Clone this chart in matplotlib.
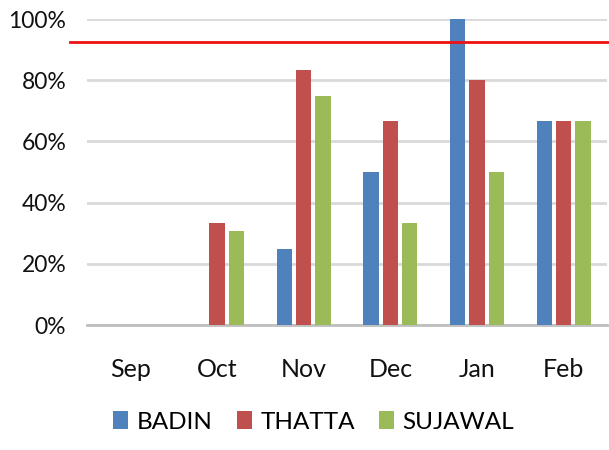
import numpy as np
import matplotlib
matplotlib.use("Agg")
import matplotlib.pyplot as plt
from matplotlib.ticker import PercentFormatter

# ------------------- Datos -------------------
months = ["Sep", "Oct", "Nov", "Dec", "Jan", "Feb"]
badin = [0, 0, 25.0, 50.0, 100.0, 66.7]
thatta = [0, 33.3, 83.3, 66.7, 80.0, 66.7]
sujawal = [0, 30.8, 75.0, 33.3, 50.0, 66.7]
target = 92.5

series = [("BADIN", badin, "#4F81BD"),
          ("THATTA", thatta, "#C0504D"),
          ("SUJAWAL", sujawal, "#9BBB59")]

plt.rcParams["font.family"] = ["Lato", "DejaVu Sans"]

fig = plt.figure(figsize=(6.09, 4.5), dpi=100)
ax = fig.add_axes([87 / 609, 1 - 325 / 450, 520 / 609, 306 / 450])

x = np.arange(len(months))
w = 0.175
step = 0.223
for i, (name, vals, col) in enumerate(series):
    ax.bar(x + (i - 1) * step, vals, width=w, color=col, label=name, zorder=3)

# linea de meta (sale un poco del eje por la izquierda)
trans = ax.get_yaxis_transform()
ax.plot([-0.033, 1.01], [target, target], color="#EE1111", lw=2,
        transform=trans, clip_on=False, zorder=4)

ax.set_xlim(-0.5, len(months) - 0.5)
ax.set_ylim(0, 100)
ax.set_yticks(np.arange(0, 101, 20))
ax.yaxis.set_major_formatter(PercentFormatter(decimals=0))
ax.set_xticks(x)
ax.set_xticklabels(months)

ax.grid(axis="y", color="#D9D9D9", lw=2, zorder=0)
ax.set_axisbelow(True)
for s in ["top", "right", "left"]:
    ax.spines[s].set_visible(False)
ax.spines["bottom"].set_color("#BFBFBF")
ax.spines["bottom"].set_linewidth(2)

ax.tick_params(axis="y", length=0, labelsize=16.5, colors="#111111", pad=15)
ax.tick_params(axis="x", length=0, labelsize=18, colors="#111111", pad=24)

fig.legend(loc="lower center", bbox_to_anchor=(0.515, -0.01), ncol=3,
           frameon=False, fontsize=17.5, handlelength=0.62, handleheight=0.8,
           handletextpad=0.35, columnspacing=1.0)

fig.savefig("out.png", dpi=100)
